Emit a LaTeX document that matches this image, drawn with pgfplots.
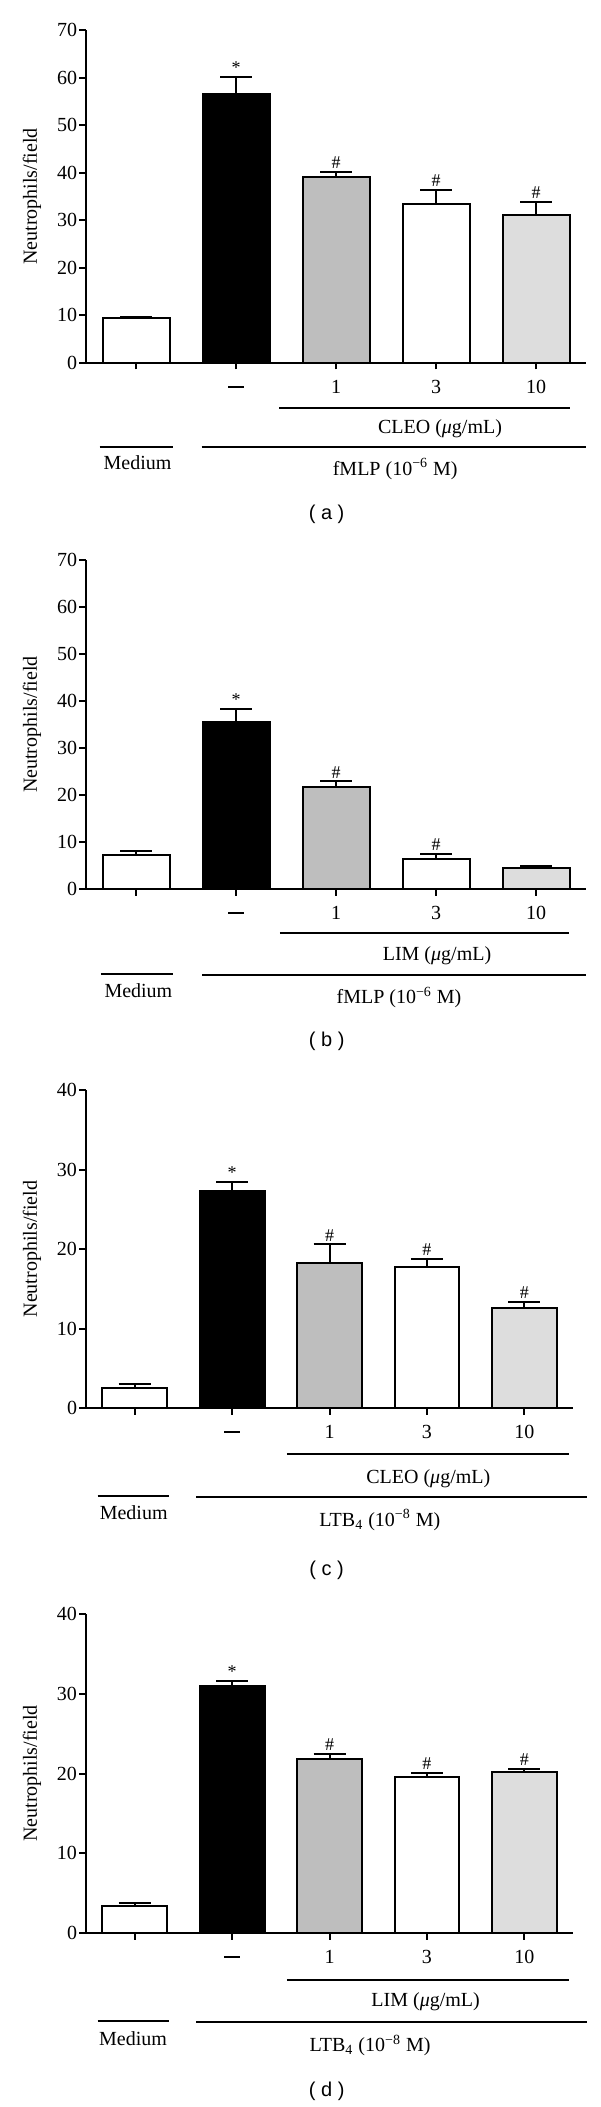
\documentclass[border=0pt]{standalone}
\usepackage{fontspec}
\setmainfont{Liberation Serif}
\newfontfamily\labelsans{Liberation Sans}
\usepackage{pgfplots}
\pgfplotsset{compat=1.18}

\definecolor{barGrey}{HTML}{BEBEBE}
\definecolor{barLight}{HTML}{DDDDDD}

\pgfplotsset{
  panel/.style={
    scale only axis,
    axis x line*=bottom, axis y line*=left,
    axis line style={line width=1pt, black},
    tick align=outside,
    major tick length=3.3pt,
    every tick/.style={line width=1pt, black},
    xmin=-0.5, xmax=4.5,
    xtick={0,1,2,3,4},
    xticklabels={{},{\rule[2.6pt]{8pt}{1pt}},1,3,10},
    ymin=0,
    clip=false,
    tick label style={font=\fontsize{10}{12}\selectfont},
    /pgf/number format/assume math mode=true,
    xticklabel style={anchor=base, yshift=-12pt},
    yticklabel style={anchor=east, inner sep=0pt, xshift=-1pt},
    ylabel={Neutrophils/field},
    every axis y label/.style={at={(axis description cs:#1,0.5)}, rotate=90, anchor=center, font=\fontsize{10}{12}\selectfont},
  },
  bar/.style={ybar, bar width=#1, bar shift=0pt, draw=black, line width=1pt,
    /pgfplots/error bars/y dir=plus, /pgfplots/error bars/y explicit,
    /pgfplots/error bars/error bar style={line width=1pt, black},
    /pgfplots/error bars/error mark options={rotate=90, mark size=8pt, line width=1pt, black}},
  stars/.style={draw=none, mark=none, nodes near coords, point meta=explicit symbolic,
    every node near coord/.style={anchor=south, inner sep=1.5pt, font=\fontsize{9}{10}\selectfont, black}},
}

\begin{document}
\begin{tikzpicture}
\useasboundingbox (0,0) rectangle (300pt,-1053.5pt);

% ---------------- (a)
\begin{axis}[panel=-0.108, at={(43pt,-181.35pt)}, anchor=south west,
  width=250pt, height=166.35pt, ymax=70, ytick={0,10,...,70}]
\addplot[bar=33.5pt, fill=white] coordinates {(0,9.3) +- (0,0.4)};
\addplot[bar=33.5pt, fill=black] coordinates {(1,56.6) +- (0,3.5)};
\addplot[bar=33.5pt, fill=barGrey] coordinates {(2,39.0) +- (0,1.2)};
\addplot[bar=33.5pt, fill=white] coordinates {(3,33.4) +- (0,2.9)};
\addplot[bar=33.5pt, fill=barLight] coordinates {(4,31.0) +- (0,2.8)};
\addplot[stars] coordinates {(1,60.1)[*] (2,40.2)[\#] (3,36.3)[\#] (4,33.8)[\#]};
\end{axis}
\draw[line width=0.9pt] (139.5pt,-204.15pt) -- (285pt,-204.15pt);
\node[anchor=base] at (220pt,-216.65pt) {CLEO (\textit{μ}g/mL)};
\draw[line width=0.9pt] (49.8pt,-223.35pt) -- (86.25pt,-223.35pt);
\draw[line width=0.9pt] (100.8pt,-223.35pt) -- (293pt,-223.35pt);
\node[anchor=base] at (68.8pt,-235pt) {Medium};
\node[anchor=base] at (197.6pt,-237.5pt) {fMLP (10\textsuperscript{−6} M)};
\node at (163.3pt,-257pt) {\labelsans ( a )};

% ---------------- (b)
\begin{axis}[panel=-0.108, at={(43pt,-444.5pt)}, anchor=south west,
  width=250pt, height=164.35pt, ymax=70, ytick={0,10,...,70}]
\addplot[bar=33.5pt, fill=white] coordinates {(0,7.2) +- (0,1.0)};
\addplot[bar=33.5pt, fill=black] coordinates {(1,35.6) +- (0,2.7)};
\addplot[bar=33.5pt, fill=barGrey] coordinates {(2,21.8) +- (0,1.1)};
\addplot[bar=33.5pt, fill=white] coordinates {(3,6.4) +- (0,1.0)};
\addplot[bar=33.5pt, fill=barLight] coordinates {(4,4.4) +- (0,0.6)};
\addplot[stars] coordinates {(1,38.3)[*] (2,22.9)[\#] (3,7.4)[\#]};
\end{axis}
\draw[line width=0.9pt] (139.9pt,-466.65pt) -- (284.5pt,-466.65pt);
\node[anchor=base] at (218.5pt,-480pt) {LIM (\textit{μ}g/mL)};
\draw[line width=0.9pt] (50.4pt,-487.15pt) -- (86.65pt,-487.15pt);
\draw[line width=0.9pt] (101.15pt,-487.5pt) -- (293pt,-487.5pt);
\node[anchor=base] at (69.2pt,-498.85pt) {Medium};
\node[anchor=base] at (199.5pt,-501.65pt) {fMLP (10\textsuperscript{−6} M)};
\node at (163.35pt,-520.85pt) {\labelsans ( b )};

% ---------------- (c)
\begin{axis}[panel=-0.111, at={(43pt,-704pt)}, anchor=south west,
  width=243.5pt, height=159pt, ymax=40, ytick={0,10,...,40}]
\addplot[bar=32.4pt, fill=white] coordinates {(0,2.53) +- (0,0.43)};
\addplot[bar=32.4pt, fill=black] coordinates {(1,27.26) +- (0,1.2)};
\addplot[bar=32.4pt, fill=barGrey] coordinates {(2,18.3) +- (0,2.27)};
\addplot[bar=32.4pt, fill=white] coordinates {(3,17.75) +- (0,1.05)};
\addplot[bar=32.4pt, fill=barLight] coordinates {(4,12.6) +- (0,0.77)};
\addplot[stars] coordinates {(1,28.46)[*] (2,20.57)[\#] (3,18.8)[\#] (4,13.37)[\#]};
\end{axis}
\draw[line width=0.9pt] (143.4pt,-727.15pt) -- (284.3pt,-727.15pt);
\node[anchor=base] at (214.15pt,-741.65pt) {CLEO (\textit{μ}g/mL)};
\draw[line width=0.9pt] (48.85pt,-748pt) -- (84.3pt,-748pt);
\draw[line width=0.9pt] (98.05pt,-748.65pt) -- (293.6pt,-748.65pt);
\node[anchor=base] at (66.85pt,-759.65pt) {Medium};
\node[anchor=base] at (189.9pt,-763pt) {LTB\textsubscript{4} (10\textsuperscript{−8} M)};
\node at (163.35pt,-785pt) {\labelsans ( c )};

% ---------------- (d)
\begin{axis}[panel=-0.111, at={(43pt,-966.5pt)}, anchor=south west,
  width=243.5pt, height=159.5pt, ymax=40, ytick={0,10,...,40}]
\addplot[bar=32.4pt, fill=white] coordinates {(0,3.4) +- (0,0.34)};
\addplot[bar=32.4pt, fill=black] coordinates {(1,31.0) +- (0,0.6)};
\addplot[bar=32.4pt, fill=barGrey] coordinates {(2,21.8) +- (0,0.64)};
\addplot[bar=32.4pt, fill=white] coordinates {(3,19.54) +- (0,0.54)};
\addplot[bar=32.4pt, fill=barLight] coordinates {(4,20.25) +- (0,0.3)};
\addplot[stars] coordinates {(1,31.6)[*] (2,22.44)[\#] (3,20.08)[\#] (4,20.55)[\#]};
\end{axis}
\draw[line width=0.9pt] (143.4pt,-990pt) -- (284.3pt,-990pt);
\node[anchor=base] at (212.8pt,-1003.35pt) {LIM (\textit{μ}g/mL)};
\draw[line width=0.9pt] (48.85pt,-1010.5pt) -- (84.3pt,-1010.5pt);
\draw[line width=0.9pt] (98.05pt,-1011.15pt) -- (293.6pt,-1011.15pt);
\node[anchor=base] at (66.5pt,-1022.5pt) {Medium};
\node[anchor=base] at (185pt,-1025.85pt) {LTB\textsubscript{4} (10\textsuperscript{−8} M)};
\node at (163.35pt,-1045.85pt) {\labelsans ( d )};
\end{tikzpicture}
\end{document}
